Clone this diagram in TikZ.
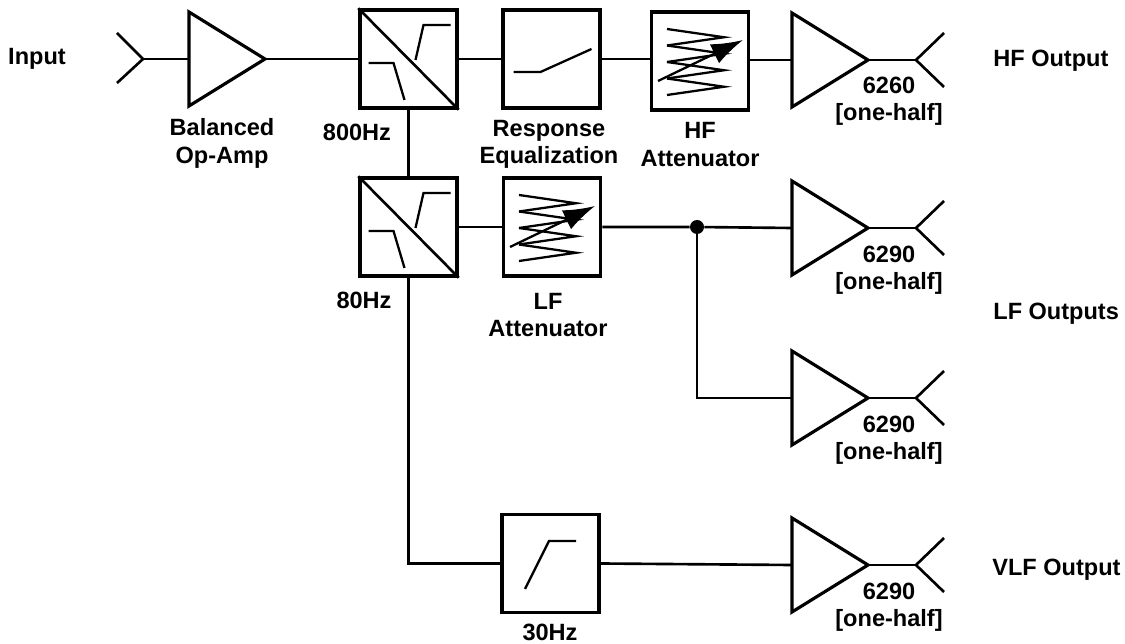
\documentclass[tikz,border=0pt]{standalone}
\usepackage{fontspec}
\setmainfont{Liberation Sans}
\usetikzlibrary{arrows.meta}
\tikzset{
  wire/.style={line width=1.5pt},
  block/.style={draw,line width=2pt,minimum width=1.94cm,minimum height=1.96cm,inner sep=0pt},
  curve/.style={line width=1.3pt},
  lbl/.style={align=center,inner sep=0pt,font=\fontsize{13.4}{15.5}\selectfont\bfseries}
}

\begin{document}
\begin{tikzpicture}[x=0.02cm,y=-0.02cm]
\useasboundingbox (0,0) rectangle (1125,644);
% blocks
\node[block] (xo800) at (408.5,59) {};
\node[block] (eq) at (551.5,59) {};
\node[block] (hfatt) at (700,61) {};
\node[block] (xo80) at (408.5,227) {};
\node[block] (lfatt) at (552,227) {};
\node[block] (hp30) at (550.5,563.5) {};
\node[circle,fill,inner sep=0pt,minimum size=0.28cm] (tap) at (697,227) {};
% amplifiers
\foreach \n/\x/\y in {0/189/59,1/792/60,2/792/228,3/792/398,4/792/565}{
    \draw[wire,line width=1.8pt,line join=miter] (\x,\y-47)--(\x+76,\y)--(\x,\y+47)--cycle;
    \coordinate (ampin\n) at (\x,\y);
    \coordinate (ampout\n) at (\x+76,\y);
}
% output antennas
\foreach \n in {1,...,4}{
    \coordinate (ant\n) at ([xshift=48*0.02cm]ampout\n);
    \draw[wire] (ampout\n)--(ant\n);
    \draw[wire] (ant\n)--++(28,-27);
    \draw[wire] (ant\n)--++(28,27);
}
% input antenna
\coordinate (antin) at (143,59);
\draw[wire] (antin)--++(-26,-26);
\draw[wire] (antin)--++(-26,24);
\draw[wire] (antin)--(ampin0);
% crossover symbols
\foreach \b in {xo800,xo80}{
    \begin{scope}[shift={(\b.center)}]
        \draw[wire] (\b.north west)--(\b.south east);
        \draw[curve] (-40,4)--(-15,4)--(-4,41);
        \draw[curve] (7,1)--(15,-34)--(42,-34);
    \end{scope}
}
% attenuators
\foreach \b in {hfatt,lfatt}{
    \begin{scope}[shift={(\b.center)}]
        \foreach \i in {0,...,3}{
            \draw[curve] (-33,-32+16.5*\i)--(24,-23.75+16.5*\i)--(-33,-15.5+16.5*\i);
        }
        \draw[curve,-{Latex[length=18pt,width=12pt]}] (-42,20)--(43,-21);
    \end{scope}
}
% response equalization and 30Hz high-pass
\begin{scope}[shift={(eq.center)}]
    \draw[curve] (-38,13)--(-11,13)--(40,-10);
\end{scope}
\begin{scope}[shift={(hp30.center)}]
    \draw[curve] (-25.5,25.5)--(-1.5,-22.5)--(25.5,-22.5);
\end{scope}
% signal path
\draw[wire] (ampout0)--(xo800.west);
\draw[wire] (xo800.east)--(eq.west);
\draw[wire] (eq.east)--(hfatt.west|-eq.east);
\draw[wire] (hfatt.east|-ampin1)--(ampin1);
\draw[wire] (xo800.south)--(xo80.north);
\draw[wire] (xo80.east)--(lfatt.west);
\draw[wire] (lfatt.east)--(tap)--(ampin2);
\draw[wire] (tap)|-(ampin3);
\draw[wire] (xo80.south)|-(hp30.west);
\draw[wire] (hp30.east)--(ampin4);
% labels
\node[lbl,anchor=base] at (37,65) {Input};
\node[lbl] at (222,143.5) {Balanced\\Op-Amp};
\node[lbl] at (357,132) {800Hz};
\node[lbl] at (549,144.5) {Response\\Equalization};
\node[lbl] at (700,144.5) {HF\\Attenuator};
\node[lbl] at (364,300) {80Hz};
\node[lbl] at (548,315) {LF\\Attenuator};
\node[lbl] at (550,632) {30Hz};
\node[lbl] at (889,101) {6260\\{[one-half]}};
\foreach \y in {228,398,565}{
    \node[lbl] at (889,\y+42) {6290\\{[one-half]}};
}
\node[lbl,anchor=base west] at (993,67) {HF Output};
\node[lbl,anchor=base west] at (993,320) {LF Outputs};
\node[lbl,anchor=base west] at (992,575) {VLF Output};
\end{tikzpicture}
\end{document}
